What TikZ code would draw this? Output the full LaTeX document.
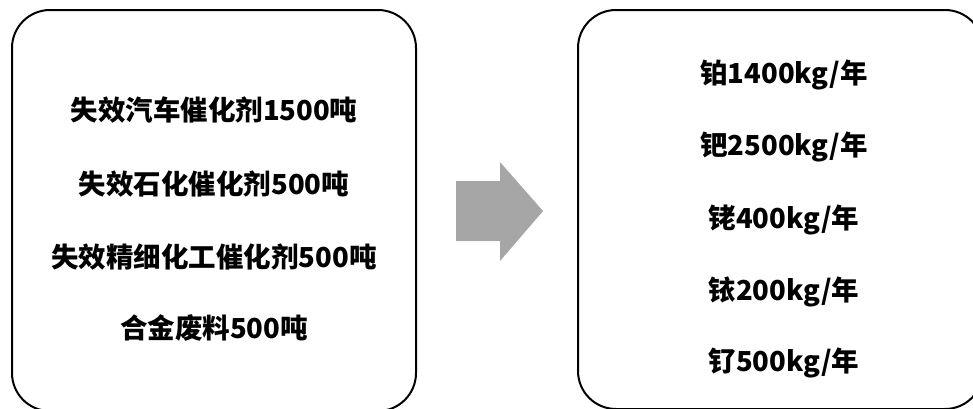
\documentclass[tikz,border=0pt]{standalone}
\usepackage{fontspec}
\newfontfamily\cjk{Noto Sans CJK SC}
\begin{document}
\begin{tikzpicture}[x=1pt,y=-1pt,
  panel/.style={draw=black,line width=2pt,rounded corners=38pt},
  lbl/.style={font=\cjk\bfseries\fontsize{27.5}{31}\selectfont,anchor=center,inner sep=0pt},
  bigarrow/.style={fill=black!35,draw=none}]
\useasboundingbox (0,0) rectangle (973,408);
\clip (0,0) rectangle (973,408);
\draw[panel] (12,10) rectangle (416,411);
\draw[panel] (578,10) rectangle (983,409);
\fill[bigarrow] (456,181) -- (500,181) -- (500,162) -- (543,211) -- (500,261) -- (500,241) -- (456,241) -- cycle;
\node[lbl] (l1) at (214,110) {失效汽车催化剂1500吨};
\node[lbl] (l2) at (214,184) {失效石化催化剂500吨};
\node[lbl] (l3) at (214,257) {失效精细化工催化剂500吨};
\node[lbl] (l4) at (214,328) {合金废料500吨};
\node[lbl] (r1) at (784,75) {铂1400kg/年};
\node[lbl] (r2) at (784,147) {钯2500kg/年};
\node[lbl] (r3) at (784,220) {铑400kg/年};
\node[lbl] (r4) at (784,292) {铱200kg/年};
\node[lbl] (r5) at (784,363) {钌500kg/年};
\end{tikzpicture}
\end{document}
